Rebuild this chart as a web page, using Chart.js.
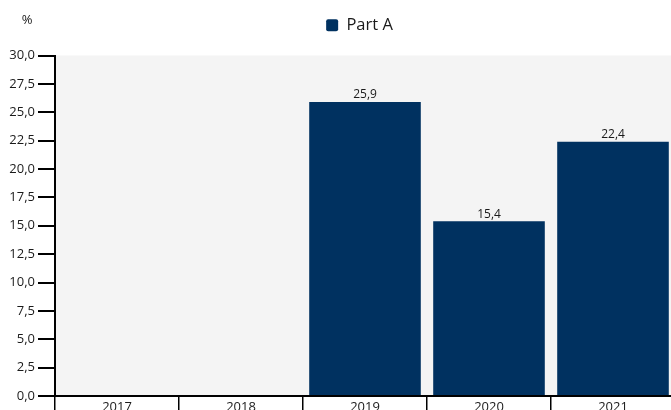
<!DOCTYPE html>
<html>
<head>
<meta charset="utf-8">
<script src="https://cdn.jsdelivr.net/npm/chart.js@4"></script>
<style>
html,body{margin:0;padding:0;overflow:hidden;background:#fff;}
#wrap{width:671px;height:410px;position:relative;overflow:hidden;}
</style>
</head>
<body>
<div id="wrap"><canvas id="c" width="675" height="430"></canvas></div>
<script>
const categories = ['2017', '2018', '2019', '2020', '2021'];
const seriesName = 'Part A';
const partA = [null, null, 25.9, 15.4, 22.4];
const yTicks = [0, 2.5, 5, 7.5, 10, 12.5, 15, 17.5, 20, 22.5, 25, 27.5, 30];

const FONT = '"Open Sans", "Noto Sans", sans-serif';
const fmt = v => v.toFixed(1).replace('.', ',');

const bgPlugin = {
  id: 'bg',
  afterLayout(chart) {
    const lg = chart.legend;
    if (lg) { lg.top -= 12; lg.bottom -= 12; lg.left += 22; lg.right += 22; }
  },
  beforeDraw(chart) {
    const {ctx, chartArea: a} = chart;
    ctx.save();
    ctx.fillStyle = '#f4f4f4';
    ctx.fillRect(a.left, a.top, a.right - a.left, a.bottom - a.top);
    ctx.restore();
  },
  afterDraw(chart) {
    const ctx = chart.ctx;
    ctx.save();
    ctx.fillStyle = '#1a1a1a';
    ctx.font = '13px ' + FONT;
    ctx.textAlign = 'center';
    ctx.textBaseline = 'middle';
    ctx.fillText('%', 27, 20);
    const meta = chart.getDatasetMeta(0);
    ctx.font = '12px ' + FONT;
    ctx.textBaseline = 'bottom';
    meta.data.forEach((bar, i) => {
      const v = chart.data.datasets[0].data[i];
      if (v == null) return;
      ctx.fillText(fmt(v), bar.x, bar.y - 1);
    });
    ctx.restore();
  }
};

new Chart(document.getElementById('c'), {
  type: 'bar',
  data: {
    labels: categories,
    datasets: [{
      label: seriesName,
      data: partA,
      backgroundColor: '#003160',
      borderWidth: 0,
      barPercentage: 0.9,
      categoryPercentage: 1.0
    }]
  },
  options: {
    responsive: false,
    animation: false,
    devicePixelRatio: 1,
    layout: { padding: { top: 17, right: 0, left: 0, bottom: 0 } },
    plugins: {
      legend: {
        position: 'top',
        labels: {
          boxWidth: 12, boxHeight: 12, useBorderRadius: true, borderRadius: 2,
          color: '#1a1a1a', font: { family: FONT, size: 16.5 }, padding: 12
        }
      },
      tooltip: { enabled: false }
    },
    scales: {
      x: {
        grid: { offset: true, drawOnChartArea: false, color: '#000', lineWidth: 1.5, tickLength: 20, tickWidth: 1.5 },
        border: { display: true, color: '#000', width: 2 },
        ticks: { color: '#1a1a1a', font: { family: FONT, size: 13 }, padding: -17, maxRotation: 0 },
        afterFit(axis) { axis.height = 34; }
      },
      y: {
        min: 0, max: 30,
        afterBuildTicks(axis) { axis.ticks = yTicks.map(v => ({ value: v })); },
        grid: { drawOnChartArea: false, color: '#000', lineWidth: 2, tickLength: 17, tickWidth: 2 },
        border: { display: true, color: '#000', width: 2 },
        ticks: { color: '#1a1a1a', font: { family: FONT, size: 13 }, padding: 3, callback: v => fmt(v) },
        afterFit(axis) { axis.width = 55; }
      }
    }
  },
  plugins: [bgPlugin]
});
</script>
</body>
</html>
